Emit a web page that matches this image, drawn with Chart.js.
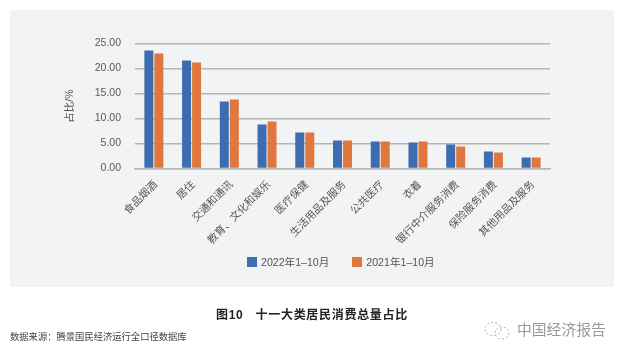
<!DOCTYPE html>
<html>
<head>
<meta charset="utf-8">
<script src="https://cdn.jsdelivr.net/npm/chart.js@4"></script>
<style>
    html, body { margin: 0; padding: 0; background: #fff; }
    body { width: 625px; height: 356px; position: relative; overflow: hidden;
           font-family: "Liberation Sans", "Noto Sans CJK SC", sans-serif; }
    #panel { position: absolute; left: 10px; top: 10px; width: 604px; height: 277px; background: #f2f3f5; }
    #wrap { position: absolute; left: 0; top: 0; width: 625px; height: 356px; }
    #legend { position: absolute; top: 254px; left: 247px; font-size: 10.6px; color: #555; white-space: nowrap; }
    #legend span { display: inline-block; vertical-align: middle; }
    #legend .box { width: 10px; height: 10px; margin-right: 4px; }
    #legend .txt { margin-right: 23px; }
    #title { position: absolute; left: 216px; top: 305px; font-size: 12px; font-weight: bold; color: #222;
             letter-spacing: 0.7px; white-space: pre; }
    #source { position: absolute; left: 10px; top: 329px; font-size: 9.3px; color: #444; white-space: nowrap; }
    #mark { position: absolute; left: 517px; top: 318px; font-size: 14.8px; color: #999; white-space: nowrap; }
    #icon { position: absolute; left: 483px; top: 321px; }
</style>
</head>
<body>
<div id="panel"></div>
<div id="wrap"><canvas id="chart" width="625" height="356"></canvas></div>
<div id="legend"></div>
<div id="title">图10   十一大类居民消费总量占比</div>
<div id="source">数据来源：腾景国民经济运行全口径数据库</div>
<svg id="icon" width="28" height="20" fill="none" stroke="#aaa" stroke-width="1" stroke-dasharray="2 2">
    <ellipse cx="10" cy="8" rx="8" ry="6.5"></ellipse>
    <ellipse cx="19" cy="12" rx="7" ry="6"></ellipse>
</svg>
<div id="mark">中国经济报告</div>

<script>
const categories = ['食品烟酒', '居住', '交通和通讯', '教育、文化和娱乐', '医疗保健', '生活用品及服务',
    '公共医疗', '衣着', '银行中介服务消费', '保险服务消费', '其他用品及服务'];
const series2022 = [23.6, 21.6, 13.4, 8.8, 7.2, 5.6, 5.4, 5.2, 4.8, 3.4, 2.2];
const series2021 = [23.0, 21.2, 13.8, 9.4, 7.2, 5.6, 5.4, 5.4, 4.4, 3.2, 2.2];
const seriesNames = ['2022年1–10月', '2021年1–10月'];
const seriesColors = ['#3d6cb0', '#e0773d'];

const FONT = '"Liberation Sans", "Noto Sans CJK SC", sans-serif';

const chart = new Chart(document.getElementById('chart'), {
    type: 'bar',
    data: {
        labels: categories,
        datasets: [
            { label: seriesNames[0], data: series2022, backgroundColor: seriesColors[0] },
            { label: seriesNames[1], data: series2021, backgroundColor: seriesColors[1] }
        ]
    },
    options: {
        responsive: false,
        animation: false,
        // bars: 10px slots, 9px wide, so pairs sit tight like the original
        categoryPercentage: 0.53,
        barPercentage: 0.9,
        layout: { padding: { left: 64, right: 75, top: 43.5, bottom: 87.5 } },
        plugins: { legend: { display: false }, tooltip: { enabled: false } },
        scales: {
            x: {
                afterFit: s => { s.height = 100; },
                grid: { display: false },
                border: { color: '#b5b5b5', width: 1.5 },
                ticks: {
                    autoSkip: false, minRotation: 45, maxRotation: 45, padding: 2, labelOffset: 2,
                    color: '#555', font: { family: FONT, size: 10.5 }
                }
            },
            y: {
                min: 0,
                max: 25,
                afterFit: s => { s.width = 71; },
                border: { display: false },
                grid: { color: '#b5b5b5', lineWidth: 1.5, drawTicks: false },
                title: { display: true, text: '占比/%', color: '#555', font: { family: FONT, size: 10.5 }, padding: 0 },
                ticks: {
                    stepSize: 5,
                    padding: 14,
                    color: '#595959',
                    font: { family: FONT, size: 10.5 },
                    callback: v => v.toFixed(2)
                }
            }
        }
    }
});

// Legend centred under the plot, not the canvas, so it lives outside the chart
document.getElementById('legend').innerHTML = chart.data.datasets.map(d =>
    `<span class="box" style="background:${d.backgroundColor}"></span><span class="txt">${d.label}</span>`
).join('');
</script>
</body>
</html>
